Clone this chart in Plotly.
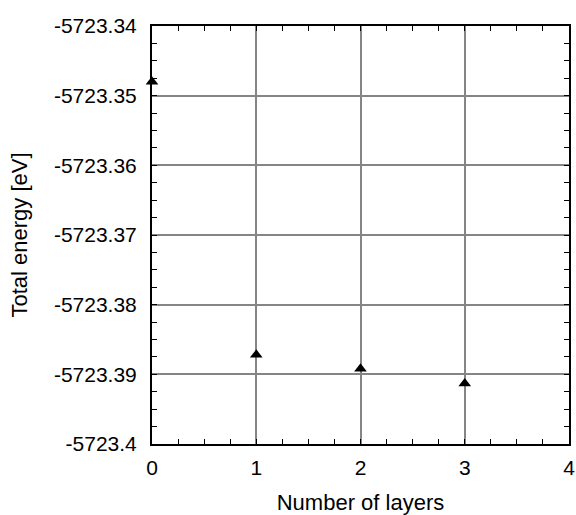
import plotly.graph_objects as go

layers = [0, 1, 2, 3]
energy = [-5723.3480, -5723.3872, -5723.3892, -5723.3913]
y_ticks = [-5723.40, -5723.39, -5723.38, -5723.37, -5723.36, -5723.35, -5723.34]
y_ticklabels = ["-5723.4", "-5723.39", "-5723.38", "-5723.37", "-5723.36", "-5723.35", "-5723.34"]
x_ticks = [0, 1, 2, 3, 4]

fig = go.Figure()
fig.add_trace(go.Scatter(
    x=layers, y=energy, mode="markers",
    marker=dict(symbol="triangle-up", size=11, color="black"),
    cliponaxis=False, showlegend=False,
))

tick_font = dict(family="Liberation Sans, Arial, sans-serif", size=21, color="black")
title_font = dict(family="Liberation Sans, Arial, sans-serif", size=22, color="black")
axis_common = dict(
    showline=True, linecolor="black", linewidth=2, mirror="allticks",
    ticks="inside", ticklen=5, tickcolor="black", tickwidth=1,
    showgrid=True, gridcolor="#858585", gridwidth=2,
    zeroline=False, tickfont=tick_font, automargin=False,
)

fig.update_xaxes(
    range=[0, 4], tickvals=x_ticks, ticktext=[str(v) for v in x_ticks],
    title=dict(text="Number of layers", font=title_font, standoff=17),
    ticklabelstandoff=4,
    minor=dict(dtick=0.25, tick0=0, ticks="inside", ticklen=5, tickcolor="black", showgrid=False),
    **axis_common,
)
fig.update_yaxes(
    range=[-5723.40, -5723.34], tickvals=y_ticks, ticktext=y_ticklabels,
    title=dict(text="Total energy [eV]", font=title_font, standoff=20),
    ticklabelstandoff=9,
    minor=dict(dtick=0.0025, tick0=-5723.40, ticks="inside", ticklen=5, tickcolor="black", showgrid=False),
    **axis_common,
)

fig.update_layout(
    width=576, height=515,
    margin=dict(l=152, r=7, t=26, b=71),
    plot_bgcolor="white", paper_bgcolor="white",
    font=tick_font,
)

fig.write_html("out.html")
